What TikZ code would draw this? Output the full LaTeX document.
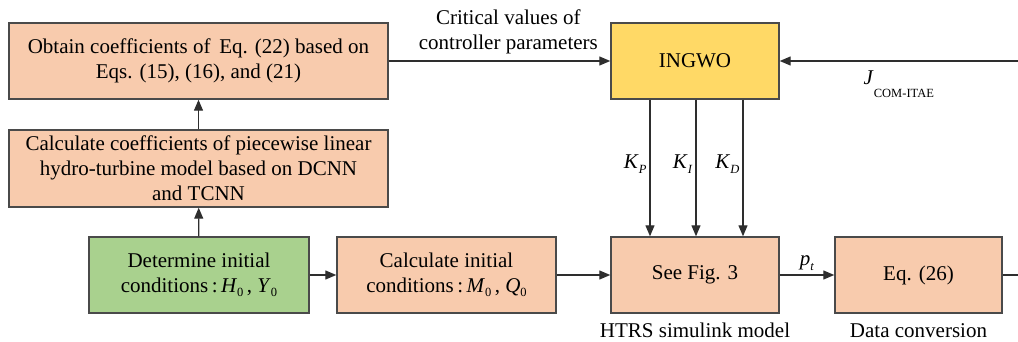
\documentclass[tikz,border=0pt]{standalone}
\usepackage{fontspec}
\setmainfont{Liberation Serif}
\usetikzlibrary{arrows.meta}

\definecolor{peach}{HTML}{F8CBAD}
\definecolor{leaf}{HTML}{A9D18E}
\definecolor{gold}{HTML}{FFD966}
\definecolor{edge}{HTML}{4A4A4A}
\definecolor{wire}{HTML}{2E2E2E}

\newcommand{\sub}[1]{\raisebox{-4.5pt}{\fontsize{12.5}{12.5}\selectfont #1}}

\begin{document}
\begin{tikzpicture}[x=1pt,y=-1pt,
  every node/.style={font=\fontsize{21}{25}\selectfont},
  blockbox/.style={draw=edge, line width=1.4pt, minimum height=76pt,
    align=center, inner sep=2pt},
  peachbox/.style={blockbox, fill=peach},
  arr/.style={draw=wire, line width=1.2pt, -{Triangle[length=11pt,width=9pt]}},
  plain/.style={draw=wire, line width=1.2pt}
]
\useasboundingbox (0,0) rectangle (1018,342);

% blocks
\node[peachbox, minimum width=379pt] (obtain) at (198.5,61)
  {Obtain coefficients of\, Eq. (22) based on\\Eqs. (15), (16), and (21)};
\node[peachbox, minimum width=379pt, minimum height=77pt] (coef) at (198.5,168.5)
  {Calculate coefficients of piecewise linear\\hydro-turbine model based on DCNN\\and TCNN};
\node[blockbox, fill=leaf, minimum width=220pt] (determine) at (199,275)
  {Determine initial\\conditions\,:\,\textit{H}\sub{0}\,, \textit{Y}\sub{0}};
\node[peachbox, minimum width=219pt] (calcinit) at (446.5,275)
  {Calculate initial\\conditions\,:\,\textit{M}\sub{0}\,, \textit{Q}\sub{0}};
\node[blockbox, fill=gold, minimum width=168pt] (ingwo) at (695,61) {INGWO};
\node[peachbox, minimum width=168pt] (htrs) at (695,275) {See Fig. 3};
\node[peachbox, minimum width=167pt] (conv) at (918.5,275) {Eq. (26)};

% captions under the blocks
\node[anchor=base] (htrscap) at (695,337) {HTRS simulink model};
\node[anchor=base] (convcap) at (918.5,337) {Data conversion};

% free ends on the right border
\coordinate (jin) at (1018,61);
\coordinate (out) at (1018,275);

% connectors
\draw[arr] (determine) -- (coef);
\draw[arr] (coef) -- (obtain);
\draw[arr] (determine) -- (calcinit);
\draw[arr] (calcinit) -- (htrs);
\draw[arr] (htrs) -- node[above, inner sep=4pt] {\textit{p}\sub{\textit{t}}} (conv);
\draw[plain] (conv) -- (out);
\draw[arr] (obtain) -- node[pos=0.54, above, align=center, inner sep=0pt, yshift=6pt]
  {Critical values of\\controller parameters} (ingwo);
\draw[arr] (jin) -- node[below, inner sep=9pt]
  {\textit{J}\raisebox{-13pt}{\fontsize{12.5}{12.5}\selectfont COM-ITAE}} (ingwo);

% gains from the optimiser into the plant model
\foreach \gx/\gn in {650/P, 696/I, 743/D} {
  \draw[arr] (ingwo.south -| \gx,0) -- node[pos=0.47, left, inner sep=3pt]
    {\textit{K}\sub{\textit{\gn}}} (htrs.north -| \gx,0);
}
\end{tikzpicture}
\end{document}
